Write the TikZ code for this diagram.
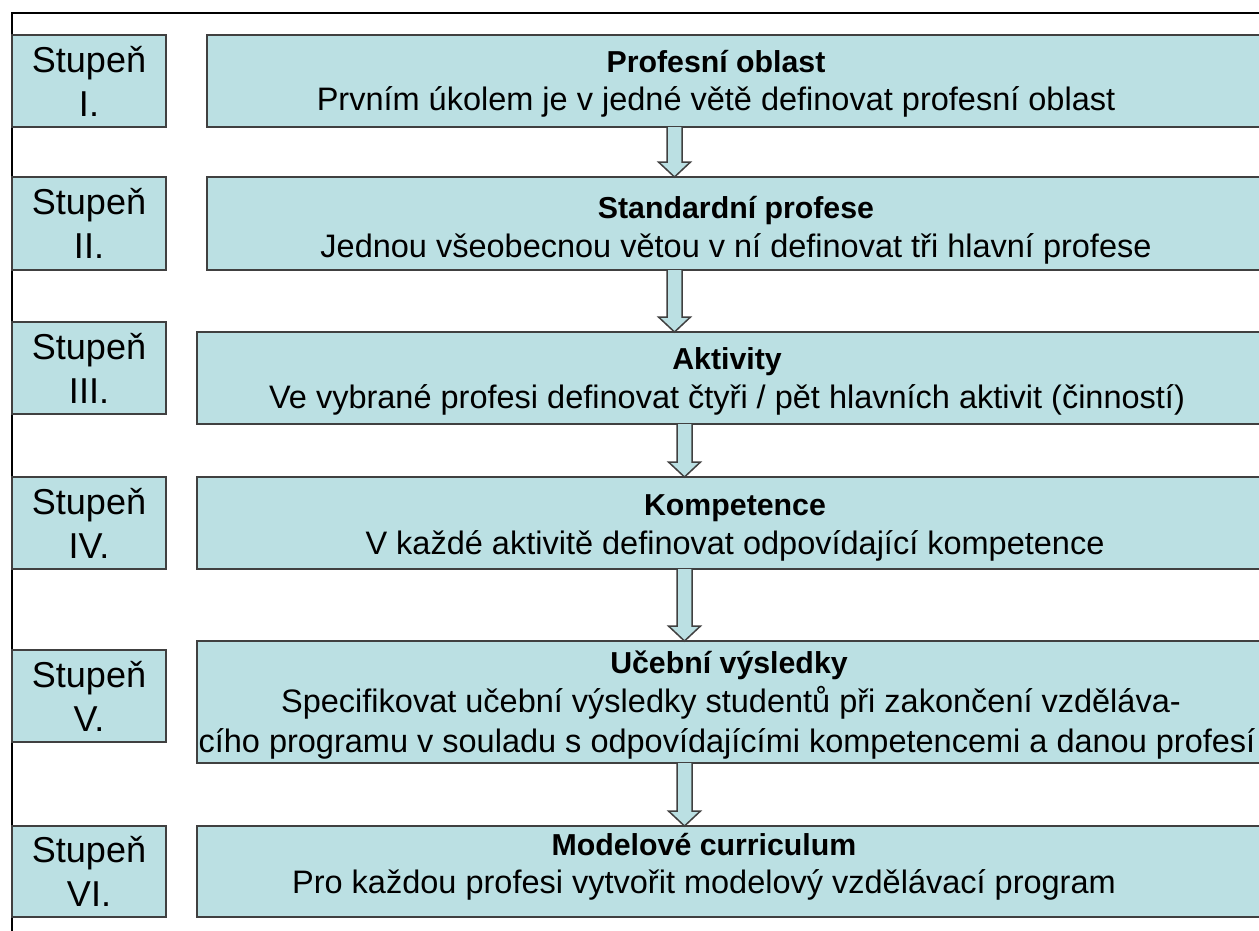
\documentclass[tikz,border=0pt]{standalone}
\usepackage{fontspec}
\setmainfont{Liberation Sans}
\usetikzlibrary{calc}
\definecolor{boxfill}{RGB}{187,224,227}
\definecolor{boxline}{RGB}{64,64,64}
\tikzset{
  stage/.style={draw=boxline, fill=boxfill, line width=1.5pt, inner sep=0pt, outer sep=0pt,
    anchor=north west, minimum width=154pt, align=center, font=\fontsize{36}{44}\selectfont},
  panel/.style={draw=boxline, fill=boxfill, line width=1.5pt, inner sep=0pt, outer sep=0pt,
    anchor=north west, minimum width=1100pt},
  ttl/.style={anchor=base, inner sep=0pt, font=\bfseries\fontsize{30.3}{38}\selectfont},
  body/.style={anchor=base, inner sep=0pt, font=\fontsize{32.5}{40}\selectfont},
  blk/.style={draw=boxline, fill=boxfill, line width=1.5pt, line join=miter}
}
\newcommand\flowarrow[3]{%
  \draw[blk] ($(#1.south -| #3)+(-7.5,0)$) -- ($(#2.north -| #3)+(-7.5,-15)$)
    -- ($(#2.north -| #3)+(-16,-15)$) -- (#2.north -| #3)
    -- ($(#2.north -| #3)+(16,-15)$) -- ($(#2.north -| #3)+(7.5,-15)$)
    -- ($(#1.south -| #3)+(7.5,0)$);
}
\begin{document}
\begin{tikzpicture}[x=1pt,y=-1pt]
\useasboundingbox (0,0) rectangle (1259,930);
\clip (0,0) rectangle (1259,930);
\fill[white] (0,0) rectangle (1259,930);
% frame
\draw[black, line width=2pt] (12,935) -- (12,13) -- (1270,13);
% stage boxes
\node[stage, minimum height=92pt] (s1) at (12,35) {Stupeň\\I.};
\node[stage, minimum height=93pt] (s2) at (12,177) {Stupeň\\II.};
\node[stage, minimum height=92pt] (s3) at (12,322) {Stupeň\\III.};
\node[stage, minimum height=92pt] (s4) at (12,477) {Stupeň\\IV.};
\node[stage, minimum height=92pt] (s5) at (12,650) {Stupeň\\V.};
\node[stage, minimum height=91pt] (s6) at (12,826) {Stupeň\\VI.};
% panels
\node[panel, minimum height=92pt] (p1) at (207,35) {};
\node[panel, minimum height=93pt] (p2) at (207,177) {};
\node[panel, minimum height=92pt] (p3) at (197,332) {};
\node[panel, minimum height=92pt] (p4) at (197,477) {};
\node[panel, minimum height=122pt] (p5) at (197,641) {};
\node[panel, minimum height=91pt] (p6) at (197,826) {};
% texts
\node[ttl] (t1) at (716,72) {Profesní oblast};
\node[body] (b1) at (716,110) {Prvním úkolem je v jedné větě definovat profesní oblast};
\node[ttl] (t2) at (736,218) {Standardní profese};
\node[body] (b2) at (736,257) {Jednou všeobecnou větou v ní definovat tři hlavní profese};
\node[ttl] (t3) at (727,369) {Aktivity};
\node[body] (b3) at (727,408) {Ve vybrané profesi definovat čtyři / pět hlavních aktivit (činností)};
\node[ttl] (t4) at (735,515) {Kompetence};
\node[body] (b4) at (735,554) {V každé aktivitě definovat odpovídající kompetence};
\node[ttl] (t5) at (729,673) {Učební výsledky};
\node[body] (b5a) at (731,712) {Specifikovat učební výsledky studentů při zakončení vzděláva-};
\node[body] (b5b) at (727,752) {cího programu v souladu s odpovídajícími kompetencemi a danou profesí};
\node[ttl] (t6) at (704,855) {Modelové curriculum};
\node[body] (b6) at (704,893) {Pro každou profesi vytvořit modelový vzdělávací program};
% arrows
\coordinate (axa) at (674.5,0);
\coordinate (axb) at (684.5,0);
\flowarrow{p1}{p2}{axa}
\flowarrow{p2}{p3}{axa}
\flowarrow{p3}{p4}{axb}
\flowarrow{p4}{p5}{axb}
\flowarrow{p5}{p6}{axb}
\end{tikzpicture}
\end{document}
